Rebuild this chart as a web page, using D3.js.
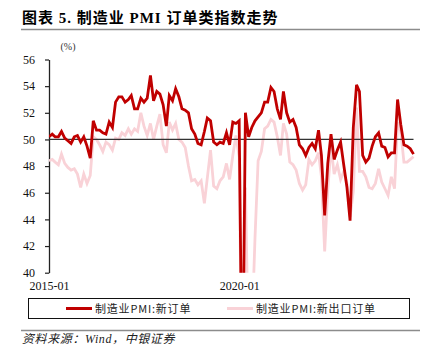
<!DOCTYPE html>
<html>
<head>
<meta charset="utf-8">
<script src="https://cdn.jsdelivr.net/npm/d3@7"></script>
<style>
    body { margin: 0; background: #fff; }
    svg { display: block; }
</style>
</head>
<body>
<svg id="drawing_region"></svg>
<script>
// monthly, 2015-01 .. 2024-08
const firstMonth = "2015-01";
const lastMonth = "2024-08";

// 制造业PMI:新订单
const newOrders = [
    50.2, 50.4, 50.2, 50.2, 50.6, 50.1, 49.9, 49.7, 50.2, 50.3, 49.8, 50.2,
    49.5, 48.6, 51.4, 50.7, 50.7, 50.5, 50.4, 51.3, 50.9, 52.8, 53.2, 53.2,
    52.8, 53.0, 53.3, 52.3, 52.3, 53.1, 52.8, 53.1, 54.8, 52.9, 53.6, 53.4,
    52.6, 51.0, 53.3, 52.9, 53.8, 53.2, 52.3, 52.2, 52.0, 50.8, 50.4, 49.7,
    49.6, 50.6, 51.6, 51.4, 49.8, 49.6, 49.8, 49.7, 50.5, 49.6, 51.3, 51.2,
    51.4, 29.3, 52.0, 50.2, 50.9, 51.4, 51.7, 52.0, 52.8, 52.8, 53.9, 53.6,
    52.3, 51.5, 53.6, 52.0, 51.3, 51.5, 50.9, 49.6, 49.3, 48.8, 49.4, 49.7,
    49.3, 50.7, 48.8, 44.3, 48.2, 50.4, 48.5, 49.2, 49.8, 48.1, 46.4, 43.9,
    50.9, 54.1, 53.6, 48.8, 48.3, 48.6, 49.5, 50.2, 50.5, 49.5, 49.4, 48.7,
    49.0, 49.0, 53.0, 51.1, 49.6, 49.5, 49.3, 48.9
];

// 制造业PMI:新出口订单
const exportOrders = [
    48.4, 48.5, 48.3, 48.1, 48.9, 48.2, 47.9, 47.7, 47.8, 47.4, 46.4, 47.4,
    46.7, 47.3, 50.2, 50.0, 49.6, 49.1, 49.8, 49.6, 49.2, 50.1, 50.0, 50.5,
    50.3, 50.8, 50.4, 50.8, 50.6, 52.0, 51.0, 50.3, 51.2, 50.0, 51.0, 51.9,
    49.6, 49.0, 51.3, 50.7, 51.2, 50.0, 49.8, 49.4, 48.0, 46.9, 47.0, 46.6,
    46.9, 45.2, 47.1, 49.2, 46.5, 46.3, 46.9, 47.2, 48.2, 47.0, 48.8, 50.3,
    48.7, 28.7, 46.4, 33.5, 35.3, 42.6, 48.4, 49.1, 50.8, 51.0, 51.5, 51.3,
    50.2, 48.8, 51.2, 50.4, 48.3, 48.1, 47.7, 46.7, 46.2, 46.6, 48.5, 48.1,
    48.4, 49.0, 47.2, 41.6, 46.2, 49.5, 47.4, 48.1, 47.0, 47.6, 46.7, 44.2,
    46.1, 52.4, 47.6, 47.6, 47.2, 46.4, 46.3, 46.7, 47.8, 46.8, 46.3, 45.8,
    47.2, 46.3, 51.3, 50.6, 48.3, 48.3, 48.5, 48.7
];

const seriesNames = ["制造业PMI:新订单", "制造业PMI:新出口订单"];
const yTicks = [40, 42, 44, 46, 48, 50, 52, 54, 56];
const xTickLabels = ["2015-01", "2020-01"];
const baseline = 50;

const cjk = '"Noto Sans CJK SC", sans-serif';
const serif = '"Liberation Serif", "Times New Roman", serif';

class OrderChart {

    constructor( config ) {
        this.config = config;
        this.init();
    }

    init() {
        let self = this;
        const parse = d3.timeParse("%Y-%m");

        self.svg = d3.select( self.config.parent )
            .attr('width', self.config.width)
            .attr('height', self.config.height);

        self.months = d3.timeMonth.range( parse(firstMonth), d3.timeMonth.offset(parse(lastMonth), 1) );

        self.xscale = d3.scaleTime()
            .domain( [self.months[0], self.months[self.months.length-1]] )
            .range( [self.config.plot.left, self.config.plot.right] );

        self.yscale = d3.scaleLinear()
            .domain( [yTicks[0], yTicks[yTicks.length-1]] )
            .range( [self.config.plot.bottom, self.config.plot.top] );

        self.svg.append('clipPath')
            .attr('id', 'plot_clip')
            .append('rect')
            .attr('x', self.config.plot.left)
            .attr('y', self.config.plot.top - 20)
            .attr('width', self.config.width - self.config.plot.left)
            .attr('height', self.config.plot.bottom - self.config.plot.top + 20);
    }

    render() {
        let self = this;
        const cfg = self.config;

        // title + rules
        self.svg.append('text')
            .attr('x', 22).attr('y', 22.5)
            .attr('font-family', `${serif}, ${cjk}`)
            .attr('font-size', 15)
            .attr('font-weight', 'bold')
            .attr('letter-spacing', 1)
            .text("图表 5. 制造业 PMI 订单类指数走势");

        [29.5, 330.5].forEach( y => {
            self.svg.append('line')
                .attr('x1', 21).attr('x2', 420)
                .attr('y1', y).attr('y2', y)
                .attr('stroke', '#8c8c8c')
                .attr('stroke-width', 1.6);
        });

        self.svg.append('text')
            .attr('x', 68).attr('y', 50)
            .attr('text-anchor', 'middle')
            .attr('font-family', serif)
            .attr('font-size', 10)
            .attr('fill', '#333')
            .text("(%)");

        // y axis
        const yaxis = d3.axisLeft( self.yscale )
            .tickValues( yTicks )
            .tickSize(4)
            .tickSizeOuter(0)
            .tickPadding(10)
            .tickFormat( d3.format('d') );

        const yg = self.svg.append('g')
            .attr('transform', `translate(${cfg.plot.left}, 0)`)
            .call( yaxis );
        yg.select('.domain').attr('stroke', '#222').attr('stroke-width', 1.3);
        yg.selectAll('.tick line').attr('stroke', '#222').attr('stroke-width', 1.2);
        yg.selectAll('text')
            .attr('font-family', serif)
            .attr('font-size', 12)
            .attr('fill', '#111');

        // x axis (labels only)
        const parse = d3.timeParse("%Y-%m");
        const xaxis = d3.axisBottom( self.xscale )
            .tickValues( xTickLabels.map(parse) )
            .tickSize(0)
            .tickPadding(9)
            .tickFormat( d3.timeFormat("%Y-%m") );

        const xg = self.svg.append('g')
            .attr('transform', `translate(0, ${cfg.plot.bottom})`)
            .call( xaxis );
        xg.select('.domain').remove();
        xg.selectAll('text')
            .attr('font-family', serif)
            .attr('font-size', 12)
            .attr('fill', '#111');

        // lines
        const plot = self.svg.append('g').attr('clip-path', 'url(#plot_clip)');

        const line = d3.line()
            .x( (d, i) => self.xscale( self.months[i] ) )
            .y( d => self.yscale( d ) );

        plot.append('path')
            .datum( exportOrders )
            .attr('fill', 'none')
            .attr('stroke', cfg.colors[1])
            .attr('stroke-width', 2.8)
            .attr('d', line);

        plot.append('line')
            .attr('x1', cfg.plot.left)
            .attr('x2', self.xscale( self.months[self.months.length-1] ))
            .attr('y1', self.yscale(baseline))
            .attr('y2', self.yscale(baseline))
            .attr('stroke', '#333')
            .attr('stroke-width', 1.3);

        plot.append('path')
            .datum( newOrders )
            .attr('fill', 'none')
            .attr('stroke', cfg.colors[0])
            .attr('stroke-width', 2.8)
            .attr('d', line);

        // legend
        self.svg.append('rect')
            .attr('x', 28.5).attr('y', 298.5)
            .attr('width', 381).attr('height', 20)
            .attr('fill', 'none')
            .attr('stroke', '#111')
            .attr('stroke-width', 1);

        const legendX = [66, 227];
        seriesNames.forEach( (name, i) => {
            self.svg.append('line')
                .attr('x1', legendX[i]).attr('x2', legendX[i] + 26)
                .attr('y1', 308.5).attr('y2', 308.5)
                .attr('stroke', cfg.colors[i])
                .attr('stroke-width', 3);
            self.svg.append('text')
                .attr('x', legendX[i] + 29).attr('y', 312.5)
                .attr('font-family', cjk)
                .attr('font-size', 11)
                .attr('letter-spacing', 0.8)
                .attr('fill', '#222')
                .text(name);
        });

        // source
        self.svg.append('text')
            .attr('x', 22).attr('y', 342.5)
            .attr('font-family', `${serif}, ${cjk}`)
            .attr('font-size', 12)
            .attr('font-style', 'italic')
            .attr('letter-spacing', 0.6)
            .attr('fill', '#222')
            .text("资料来源：Wind，中银证券");
    }
}

const chart = new OrderChart({
    parent: '#drawing_region',
    width: 431,
    height: 352,
    plot: {left: 49, right: 413.5, top: 59.5, bottom: 272.7},
    colors: ["#c00000", "#f9d2d7"],
});
chart.render();
</script>
</body>
</html>
